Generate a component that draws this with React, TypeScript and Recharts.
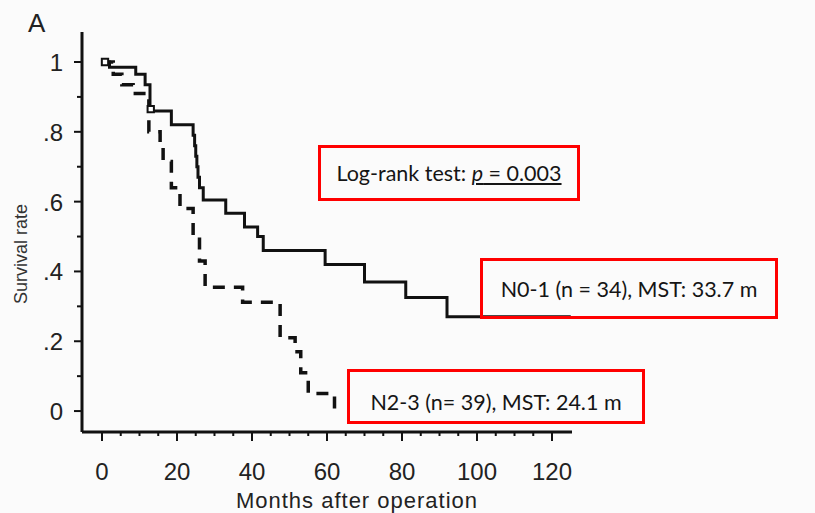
import React from 'react';
import { ComposedChart, Line, Scatter, XAxis, YAxis, ZAxis } from 'recharts';

// N0-1 group (solid), Kaplan-Meier steps
const n01Months = [0, 2, 9, 11.5, 12.8, 18.5, 24.3, 24.7, 25.0, 25.3, 25.6, 26, 27, 33, 38, 41.5, 43, 59.5, 70, 81, 92, 125];
const n01Survival = [1.0, 0.985, 0.965, 0.935, 0.86, 0.82, 0.79, 0.76, 0.73, 0.7, 0.67, 0.64, 0.605, 0.567, 0.527, 0.5, 0.46, 0.42, 0.37, 0.325, 0.27, 0.27];

// N2-3 group (dashed)
const n23Months = [0, 3, 5.3, 8.3, 12.5, 15.5, 16.3, 18.5, 20.8, 24.3, 26, 27.5, 37.5, 47.5, 51.5, 53, 55, 62];
const n23Survival = [1.0, 0.965, 0.935, 0.91, 0.8, 0.76, 0.715, 0.64, 0.58, 0.5, 0.43, 0.355, 0.312, 0.21, 0.17, 0.11, 0.05, 0.0];

// censored marks
const censorMonths = [0.8, 13];
const censorSurvival = [1.0, 0.865];

const xTicks = [0, 5, 10, 15, 20, 25, 30, 35, 40, 45, 50, 55, 60, 65, 70, 75, 80, 85, 90, 95, 100, 105, 110, 115, 120];
const yTicks = [0, 0.1, 0.2, 0.3, 0.4, 0.5, 0.6, 0.7, 0.8, 0.9, 1];

const n01Data = n01Months.map((m, i) => ({ m, s: n01Survival[i] }));
const n23Data = n23Months.map((m, i) => ({ m, s: n23Survival[i] }));
const censorData = censorMonths.map((m, i) => ({ m, s: censorSurvival[i] }));

const axisFont = '"Liberation Sans", Arial, sans-serif';
const boxFont = 'Lato, "Liberation Sans", sans-serif';

const XTick = ({ x, y, payload }: any) => {
  const major = payload.value % 20 === 0;
  return (
    <g>
      <line x1={x} x2={x} y1={y} y2={y + (major ? 9 : 4)} stroke="#111" strokeWidth={2} />
      {major && (
        <text x={x} y={y + 48} textAnchor="middle" fontSize={24} fill="#222" fontFamily={axisFont}>
          {payload.value}
        </text>
      )}
    </g>
  );
};

const fmtY = (v: number) => {
  if (v === 0) return '0';
  if (v === 1) return '1';
  return '.' + Math.round(v * 10);
};

const YTick = ({ x, y, payload }: any) => {
  const major = Math.round(payload.value * 10) % 2 === 0;
  return (
    <g>
      <line x1={x - (major ? 8 : 5)} x2={x} y1={y} y2={y} stroke="#111" strokeWidth={2} />
      {major && (
        <text x={x - 19} y={y + 9} textAnchor="end" fontSize={24} fill="#222" fontFamily={axisFont}>
          {fmtY(payload.value)}
        </text>
      )}
    </g>
  );
};

const XTitle = ({ viewBox }: any) => (
  <text
    x={viewBox.x + viewBox.width / 2 + 30}
    y={viewBox.y + 76}
    textAnchor="middle"
    fontSize={22}
    letterSpacing={1}
    fill="#222"
    fontFamily={axisFont}
  >
    Months after operation
  </text>
);

const YTitle = ({ viewBox }: any) => {
  const cx = 21;
  const cy = viewBox.y + viewBox.height / 2 + 22;
  return (
    <text
      x={cx}
      y={cy}
      transform={`rotate(-90, ${cx}, ${cy})`}
      textAnchor="middle"
      dominantBaseline="central"
      fontSize={18}
      fill="#333"
      fontFamily={axisFont}
    >
      Survival rate
    </text>
  );
};

const boxStyle = (left: number, top: number, width: number, height: number, padTop = 0): React.CSSProperties => ({
  position: 'absolute',
  left,
  top,
  width,
  height,
  boxSizing: 'border-box',
  border: '3px solid #f00',
  display: 'flex',
  alignItems: 'center',
  justifyContent: 'center',
  paddingTop: padTop,
  fontFamily: boxFont,
  fontSize: 21.5,
  color: '#151515',
  whiteSpace: 'nowrap',
});

export default function App() {
  return (
    <div style={{ position: 'absolute', left: 0, top: 0, width: 815, height: 513, background: '#fbfbfb' }}>
      <ComposedChart width={815} height={513} margin={{ top: 32, right: 243, bottom: 8, left: 0 }}>
        <XAxis
          type="number"
          dataKey="m"
          domain={[-5.33, 125.33]}
          ticks={xTicks}
          interval={0}
          height={73}
          tickSize={0}
          tickMargin={0}
          tickLine={false}
          tick={<XTick />}
          axisLine={{ stroke: '#111', strokeWidth: 3 }}
          label={{ value: 'Months after operation', content: <XTitle /> }}
        />
        <YAxis
          type="number"
          dataKey="s"
          domain={[-0.06, 1.086]}
          ticks={yTicks}
          interval={0}
          width={82}
          tickSize={0}
          tickMargin={0}
          tickLine={false}
          tick={<YTick />}
          axisLine={{ stroke: '#111', strokeWidth: 3 }}
          label={{ value: 'Survival rate', content: <YTitle /> }}
        />
        <ZAxis range={[40, 40]} />
        <Line
          data={n01Data}
          dataKey="s"
          type="stepAfter"
          stroke="#111"
          strokeWidth={3}
          dot={false}
          isAnimationActive={false}
        />
        <Line
          data={n23Data}
          dataKey="s"
          type="stepAfter"
          stroke="#111"
          strokeWidth={3.5}
          strokeDasharray="12 9"
          dot={false}
          isAnimationActive={false}
        />
        <Scatter
          data={censorData}
          dataKey="s"
          shape="square"
          fill="#fff"
          stroke="#111"
          strokeWidth={2}
          isAnimationActive={false}
        />
      </ComposedChart>

      <div style={{ position: 'absolute', left: 28, top: 8, fontSize: 26, fontFamily: axisFont, color: '#222' }}>A</div>

      <div style={boxStyle(318, 145, 262, 56)}>
        <span>
          Log-rank test:{' '}
          <span style={{ textDecoration: 'underline' }}>
            <i>p</i> = 0.003
          </span>
        </span>
      </div>
      <div style={boxStyle(480, 258, 298, 61)}>N0-1 (n = 34), MST: 33.7 m</div>
      <div style={boxStyle(347, 369, 298, 55, 10)}>N2-3 (n= 39), MST: 24.1 m</div>
    </div>
  );
}
